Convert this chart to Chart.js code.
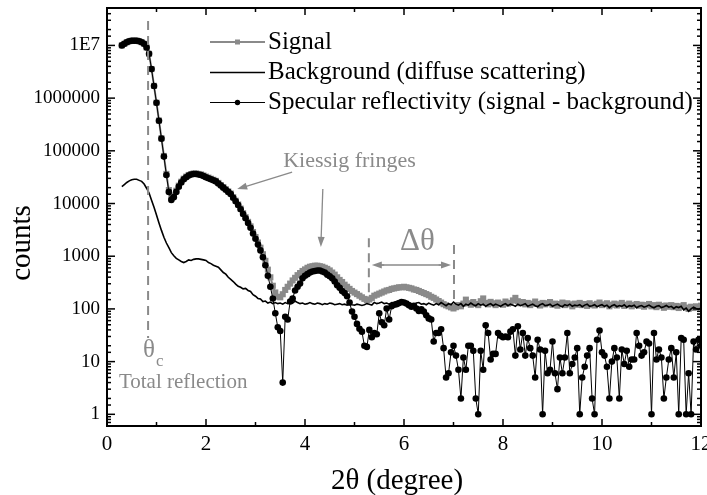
<!DOCTYPE html>
<html>
<head>
<meta charset="utf-8">
<script src="https://cdn.jsdelivr.net/npm/chart.js@4.4.1/dist/chart.umd.min.js"></script>
<style>
  html, body { margin: 0; padding: 0; background: #fff; }
  #wrap { width: 707px; height: 495px; }
</style>
</head>
<body>
<div id="wrap"><canvas id="chart" width="707" height="495"></canvas></div>
<script>
// 2theta grid (degree)
const angles = [
  0.30, 0.35, 0.40, 0.45, 0.50, 0.55, 0.60, 0.65, 0.70, 0.75, 0.80, 0.85, 0.90, 0.95,
  1.00, 1.05, 1.10, 1.15, 1.20, 1.25, 1.30, 1.35, 1.40, 1.45, 1.50, 1.55, 1.60, 1.65, 1.70, 1.75, 1.80, 1.85, 1.90, 1.95,
  2.00, 2.05, 2.10, 2.15, 2.20, 2.25, 2.30, 2.35, 2.40, 2.45, 2.50, 2.55, 2.60, 2.65, 2.70, 2.75, 2.80, 2.85, 2.90, 2.95,
  3.00, 3.05, 3.10, 3.15, 3.20, 3.25, 3.30, 3.35, 3.40, 3.45, 3.50, 3.55, 3.60, 3.65, 3.70, 3.75, 3.80, 3.85, 3.90, 3.95,
  4.00, 4.05, 4.10, 4.15, 4.20, 4.25, 4.30, 4.35, 4.40, 4.45, 4.50, 4.55, 4.60, 4.65, 4.70, 4.75, 4.80, 4.85, 4.90, 4.95,
  5.00, 5.05, 5.10, 5.15, 5.20, 5.25, 5.30, 5.35, 5.40, 5.45, 5.50, 5.55, 5.60, 5.65, 5.70, 5.75, 5.80, 5.85, 5.90, 5.95,
  6.00, 6.05, 6.10, 6.15, 6.20, 6.25, 6.30, 6.35, 6.40, 6.45, 6.50, 6.55, 6.60, 6.65, 6.70, 6.75, 6.80, 6.85, 6.90, 6.95,
  7.00, 7.05, 7.10, 7.15, 7.20, 7.25, 7.30, 7.35, 7.40, 7.45, 7.50, 7.55, 7.60, 7.65, 7.70, 7.75, 7.80, 7.85, 7.90, 7.95,
  8.00, 8.05, 8.10, 8.15, 8.20, 8.25, 8.30, 8.35, 8.40, 8.45, 8.50, 8.55, 8.60, 8.65, 8.70, 8.75, 8.80, 8.85, 8.90, 8.95,
  9.00, 9.05, 9.10, 9.15, 9.20, 9.25, 9.30, 9.35, 9.40, 9.45, 9.50, 9.55, 9.60, 9.65, 9.70, 9.75, 9.80, 9.85, 9.90, 9.95,
  10.00, 10.05, 10.10, 10.15, 10.20, 10.25, 10.30, 10.35, 10.40, 10.45, 10.50, 10.55, 10.60, 10.65, 10.70, 10.75, 10.80, 10.85, 10.90, 10.95,
  11.00, 11.05, 11.10, 11.15, 11.20, 11.25, 11.30, 11.35, 11.40, 11.45, 11.50, 11.55, 11.60, 11.65, 11.70, 11.75, 11.80, 11.85, 11.90, 11.95,
  12.00
];

const signal = [
  10020000, 10720000, 11530000, 12030000, 12330000, 12330000, 12330000, 12030000, 11530000, 10720000, 9140000, 6940000, 3560000, 1710000,
  819000, 376000, 173000, 79900, 36500, 18000, 12900, 14200, 17500, 21800, 25900, 29600, 32400, 34800, 36300, 37200, 37200, 36400, 35600, 34000,
  32400, 31000, 29500, 28200, 26900, 24600, 22400, 20500, 18700, 17000, 15500, 13200, 11300, 9600, 8020, 6550, 5500, 4490, 3680, 2880,
  2310, 1820, 1450, 1090, 817, 556, 398, 275, 205, 170, 166, 190, 229, 263, 302, 347, 389, 437, 479, 525,
  562, 603, 631, 646, 661, 661, 646, 631, 603, 575, 537, 490, 447, 398, 355, 324, 288, 263, 240, 219,
  204, 191, 178, 166, 155, 148, 151, 162, 178, 186, 195, 204, 214, 224, 229, 240, 245, 251, 257, 257,
  263, 257, 251, 245, 234, 229, 219, 209, 200, 191, 182, 170, 162, 151, 141, 132, 123, 117, 112, 107,
  102, 108, 118, 112, 126, 150, 128, 120, 135, 124, 118, 140, 158, 130, 122, 136, 128, 118, 132, 125,
  120, 138, 126, 130, 145, 162, 140, 128, 135, 122, 130, 118, 126, 138, 124, 116, 130, 122, 128, 135,
  120, 126, 115, 124, 132, 118, 128, 122, 112, 126, 120, 130, 118, 124, 114, 128, 120, 116, 125, 132,
  118, 122, 128, 112, 120, 126, 116, 122, 130, 114, 120, 126, 112, 118, 124, 115, 120, 110, 118, 124,
  112, 118, 108, 120, 114, 105, 116, 110, 118, 108, 114, 104, 112, 118, 106, 100, 110, 104, 112, 108,
  115
];

const background = [
  20900, 22900, 25100, 26900, 28200, 28800, 28800, 27500, 26300, 23400, 19500, 15800, 11500, 8510,
  6030, 4270, 3090, 2290, 1780, 1450, 1170, 1020, 912, 851, 794, 759, 794, 851, 832, 871, 891, 891, 871, 851,
  832, 759, 724, 676, 646, 617, 550, 490, 457, 398, 363, 331, 295, 269, 257, 240, 245, 224, 214, 186,
  174, 158, 155, 138, 141, 129, 135, 126, 132, 126, 129, 123, 132, 126, 135, 129, 141, 132, 126, 129,
  123, 126, 132, 126, 123, 129, 126, 120, 126, 123, 129, 126, 120, 123, 126, 120, 123, 118, 123, 120,
  118, 123, 120, 116, 120, 126, 123, 118, 132, 126, 129, 135, 126, 129, 123, 132, 126, 129, 132, 126,
  129, 123, 132, 126, 120, 129, 132, 123, 126, 120, 129, 123, 118, 126, 120, 132, 123, 115, 126, 120,
  135, 123, 118, 126, 112, 123, 118, 129, 120, 115, 126, 118, 123, 112, 120, 126, 115, 123, 118, 112,
  120, 126, 115, 123, 118, 112, 123, 115, 120, 126, 112, 118, 123, 115, 110, 120, 126, 115, 118, 123,
  112, 118, 123, 115, 110, 120, 115, 123, 112, 118, 115, 120, 110, 118, 123, 112, 115, 120, 110, 116,
  120, 112, 118, 106, 115, 120, 110, 116, 112, 120, 108, 115, 112, 118, 105, 112, 116, 108, 112, 118,
  110, 105, 112, 115, 106, 110, 116, 108, 112, 102, 110, 106, 112, 96, 104, 90, 100, 108, 102, 98,
  104
];

const specular = [
  10000000, 10700000, 11500000, 12000000, 12300000, 12300000, 12300000, 12000000, 11500000, 10700000, 9120000, 6920000, 3550000, 1700000,
  813000, 372000, 170000, 77600, 34700, 16600, 11700, 13200, 16600, 20900, 25100, 28800, 31600, 33900, 35500, 36300, 36300, 35500, 34700, 33100,
  31600, 30200, 28800, 27500, 26300, 24000, 21900, 20000, 18200, 16600, 15100, 12900, 11000, 9330, 7760, 6310, 5250, 4270, 3470, 2690,
  2140, 1660, 1290, 955, 676, 427, 263, 158, 83, 45, 38, 4, 71, 63, 138, 158, 224, 263, 302, 380,
  427, 457, 490, 513, 525, 537, 537, 513, 490, 447, 417, 380, 331, 282, 251, 219, 200, 174, 132, 89,
  71, 52, 42, 37, 20, 19, 40, 29, 35, 33, 83, 56, 49, 102, 63, 112, 120, 123, 129, 135,
  132, 126, 117, 110, 115, 102, 91, 98, 89, 76, 66, 63, 24, 35, 35, 41, 18, 5, 6, 15,
  20, 13, 7, 2, 12, 7, 20, 20, 16, 2, 1, 16, 7, 49, 35, 11, 14, 14, 35, 31,
  29, 30, 29, 37, 41, 13, 47, 17, 35, 13, 28, 18, 13, 5, 26, 17, 1, 16, 6, 7,
  24, 6, 3, 12, 6, 12, 35, 6, 9, 12, 18, 1, 5, 8, 13, 18, 2, 1, 26, 39,
  15, 13, 8, 2, 10, 18, 12, 2, 17, 9, 16, 8, 11, 11, 35, 20, 13, 15, 24, 22,
  1, 35, 11, 17, 12, 2, 5, 11, 18, 5, 15, 1, 28, 26, 1, 6, 1, 24, 17, 26,
  20
];

const seriesNames = ['Signal', 'Background (diffuse scattering)', 'Specular reflectivity (signal - background)'];
const xTickValues = [0, 2, 4, 6, 8, 10, 12];
const xTickLabels = ['0', '2', '4', '6', '8', '10', '12'];
const yTickValues = [1, 10, 100, 1000, 10000, 100000, 1000000, 10000000];
const yTickLabels = ['1', '10', '100', '1000', '10000', '100000', '1000000', '1E7'];

const FONT = "'Liberation Serif', 'Times New Roman', serif";
const GRAY = '#8a8a8a';

const toPoints = ys => angles.map((a, i) => ({ x: a, y: ys[i] }));

function line(ctx, x1, y1, x2, y2) {
    ctx.beginPath();
    ctx.moveTo(x1, y1);
    ctx.lineTo(x2, y2);
    ctx.stroke();
}

function arrow(ctx, x1, y1, x2, y2) {
    const ang = Math.atan2(y2 - y1, x2 - x1);
    line(ctx, x1, y1, x2 - 6 * Math.cos(ang), y2 - 6 * Math.sin(ang));
    ctx.save();
    ctx.translate(x2, y2);
    ctx.rotate(ang);
    ctx.beginPath();
    ctx.moveTo(0, 0);
    ctx.lineTo(-10, -3.5);
    ctx.lineTo(-10, 3.5);
    ctx.closePath();
    ctx.fill();
    ctx.restore();
}

// frame with inward ticks on all four sides
const frameTicks = {
    id: 'frameTicks',
    afterDraw(chart) {
        const { ctx, chartArea: a, scales: { x, y } } = chart;
        ctx.save();
        ctx.strokeStyle = '#000';
        ctx.lineWidth = 1.5;
        x.ticks.forEach(t => {
            const px = x.getPixelForValue(t.value);
            const len = xTickValues.includes(t.value) ? 7 : 4;
            line(ctx, px, a.bottom, px, a.bottom - len);
            line(ctx, px, a.top, px, a.top + len);
        });
        y.ticks.forEach(t => {
            const py = y.getPixelForValue(t.value);
            if (py < a.top + 1.5 || py > a.bottom - 1.5) return;
            const len = yTickValues.includes(t.value) ? 8 : 4;
            line(ctx, a.left, py, a.left + len, py);
            line(ctx, a.right, py, a.right - len, py);
        });
        ctx.lineWidth = 2;
        ctx.strokeRect(a.left, a.top, a.right - a.left, a.bottom - a.top);

        // axis titles
        ctx.fillStyle = '#000';
        ctx.font = '29px ' + FONT;
        ctx.textAlign = 'center';
        ctx.textBaseline = 'middle';
        ctx.fillText('2θ (degree)', (a.left + a.right) / 2 - 7, 481);
        ctx.save();
        ctx.translate(22, (a.top + a.bottom) / 2 + 26);
        ctx.rotate(-Math.PI / 2);
        ctx.fillText('counts', 0, 0);
        ctx.restore();
        ctx.restore();
    }
};

// legend inside the plot, top left
const insideLegend = {
    id: 'insideLegend',
    afterDraw(chart) {
        const { ctx, chartArea: a } = chart;
        ctx.save();
        chart.data.datasets.forEach((ds, i) => {
            const cy = a.top + 34 + i * 30 + (ds.borderWidth < 2 ? 0.5 : 0);
            const x0 = a.left + 103, x1 = a.left + 158;
            const mx = (x0 + x1) / 2;
            ctx.strokeStyle = ds.borderColor;
            ctx.fillStyle = ds.borderColor;
            ctx.lineWidth = Math.max(ds.borderWidth, 1.2);
            line(ctx, x0, cy, x1, cy);
            if (ds.pointStyle === 'rect' && ds.pointRadius > 0) {
                ctx.fillRect(mx - 2.5, cy - 2.5, 5, 5);
            } else if (ds.pointRadius > 0) {
                ctx.beginPath();
                ctx.arc(mx, cy, 2.7, 0, Math.PI * 2);
                ctx.fill();
            }
            ctx.fillStyle = '#000';
            ctx.font = '25px ' + FONT;
            ctx.textAlign = 'left';
            ctx.textBaseline = 'middle';
            ctx.fillText(ds.label, x1 + 3, a.top + 34 + i * 30);
        });
        ctx.restore();
    }
};

// gray annotations, placed in data coordinates
const notes = {
    id: 'notes',
    afterDraw(chart) {
        const { ctx, scales: { x, y } } = chart;
        const X = v => x.getPixelForValue(v);
        const Y = v => y.getPixelForValue(v);
        ctx.save();
        ctx.strokeStyle = GRAY;
        ctx.fillStyle = GRAY;

        // critical angle
        ctx.lineWidth = 2;
        ctx.setLineDash([9, 6]);
        line(ctx, X(0.83), Y(2.9e7), X(0.83), Y(28));
        // delta theta markers
        line(ctx, X(5.29), Y(2200), X(5.29), Y(168));
        line(ctx, X(7.01), Y(1630), X(7.01), Y(135));
        ctx.setLineDash([]);

        ctx.lineWidth = 1.3;
        arrow(ctx, X(5.6), Y(681), X(5.35), Y(681));
        arrow(ctx, X(6.7), Y(681), X(6.95), Y(681));
        line(ctx, X(5.5), Y(681), X(6.8), Y(681));
        arrow(ctx, X(3.74), Y(39600), X(2.63), Y(18800));
        arrow(ctx, X(4.36), Y(18800), X(4.32), Y(1500));

        ctx.textBaseline = 'alphabetic';
        ctx.textAlign = 'center';
        ctx.font = '25px ' + FONT;
        ctx.fillText('θ', X(0.85), Y(12.2));
        ctx.textAlign = 'left';
        ctx.font = '17px ' + FONT;
        ctx.fillText('c', X(0.99), Y(8.3));
        ctx.font = '21px ' + FONT;
        ctx.fillText('Total reflection', X(0.24), Y(3.16));
        ctx.font = '22px ' + FONT;
        ctx.fillText('Kiessig fringes', X(3.56), Y(49300));
        ctx.font = '31px ' + FONT;
        ctx.fillText('Δθ', X(5.92), Y(1340));
        ctx.restore();
    }
};

new Chart(document.getElementById('chart'), {
    type: 'line',
    data: {
        datasets: [
            {
                label: seriesNames[0],
                data: toPoints(signal),
                borderColor: GRAY,
                backgroundColor: GRAY,
                borderWidth: 2,
                pointStyle: 'rect',
                pointRadius: 4.3,
                pointBorderWidth: 0,
                order: 3
            },
            {
                label: seriesNames[1],
                data: toPoints(background),
                borderColor: '#000',
                backgroundColor: '#000',
                borderWidth: 1.6,
                pointRadius: 0,
                order: 2
            },
            {
                label: seriesNames[2],
                data: toPoints(specular),
                borderColor: '#000',
                backgroundColor: '#000',
                borderWidth: 1,
                pointStyle: 'circle',
                pointRadius: 3.3,
                pointBorderWidth: 0,
                order: 1
            }
        ]
    },
    options: {
        responsive: false,
        devicePixelRatio: 1,
        animation: false,
        layout: { padding: { left: 0, right: 6, top: 8, bottom: 0 } },
        elements: { line: { tension: 0 } },
        plugins: {
            legend: { display: false },
            tooltip: { enabled: false }
        },
        scales: {
            x: {
                type: 'linear',
                min: 0,
                max: 12,
                grid: { display: false, drawTicks: false },
                border: { display: false },
                ticks: {
                    stepSize: 1,
                    autoSkip: false,
                    maxRotation: 0,
                    padding: 6,
                    color: '#000',
                    font: { family: FONT, size: 21 },
                    callback: v => {
                        const i = xTickValues.indexOf(v);
                        return i >= 0 ? xTickLabels[i] : '';
                    }
                },
                afterFit: s => {
                    s.height = 69;
                    s.paddingLeft = 0;
                    s.paddingRight = 0;
                }
            },
            y: {
                type: 'logarithmic',
                min: 0.6,
                max: 5.13e7,
                grid: { display: false, drawTicks: false },
                border: { display: false },
                ticks: {
                    autoSkip: false,
                    padding: 7,
                    color: '#000',
                    font: { family: FONT, size: 19 },
                    callback: v => {
                        const i = yTickValues.indexOf(v);
                        return i >= 0 ? yTickLabels[i] : '';
                    }
                },
                afterFit: s => {
                    s.width = 107;
                    s.paddingTop = 0;
                    s.paddingBottom = 0;
                }
            }
        }
    },
    plugins: [frameTicks, insideLegend, notes]
});
</script>
</body>
</html>
